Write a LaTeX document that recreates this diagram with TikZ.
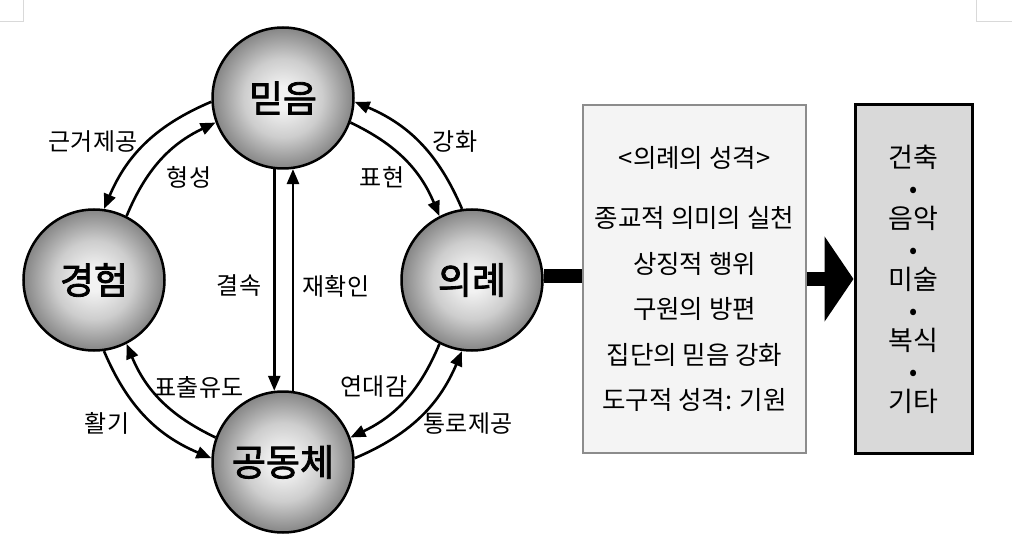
\documentclass[tikz,border=0pt]{standalone}
\usepackage{fontspec}
\setmainfont{Noto Sans CJK KR}
\newfontfamily\ballfont{Noto Sans CJK KR}[FakeBold=2.2]
\usetikzlibrary{arrows.meta}
\definecolor{ballA}{HTML}{F2F2F2}
\definecolor{ballB}{HTML}{CDCDCD}
\definecolor{ballC}{HTML}{858585}
\definecolor{boxA}{HTML}{F4F4F4}
\definecolor{boxB}{HTML}{D9D9D9}
\pgfdeclareradialshading{ballgray}{\pgfpoint{0bp}{0bp}}{color(0bp)=(ballA); color(4bp)=(ballA); color(14bp)=(ballB); color(25bp)=(ballC); color(50bp)=(ballC)}
\newcommand{\sepdot}{{\fontsize{24}{24}\selectfont •}}
\begin{document}
\begin{tikzpicture}[x=1pt,y=-1pt,
  ball/.style={circle, draw, line width=2.5pt, minimum size=141pt, inner sep=0pt,
    shade, shading=ballgray, font=\ballfont\fontsize{37}{37}\selectfont},
  arc/.style={line width=2.6pt, -{Triangle[length=15pt,width=12pt]}},
  lbl/.style={inner sep=0pt, font=\fontsize{24}{24}\selectfont},
  boxone/.style={rectangle, draw=black!45, line width=1.2pt, fill=boxA,
    minimum width=223pt, minimum height=348pt, align=center, inner sep=0pt,
    font=\fontsize{25.5}{45.5}\selectfont},
  boxtwo/.style={rectangle, draw=black, line width=3pt, fill=boxB,
    minimum width=117pt, minimum height=349pt, align=center, inner sep=0pt,
    font=\fontsize{27}{30.5}\selectfont}]
\useasboundingbox (0,0) rectangle (1023,556);
% page corner marks
\draw[black!15, line width=0.8pt] (0,21) -- (23,21) -- (23,0);
\draw[black!15, line width=0.8pt] (976,0) -- (976,21) -- (1012,21);

\node[ball] (mideum) at (283,98) {믿음};
\node[ball] (gyeong) at (94,280) {경험};
\node[ball] (uirye) at (472,280) {의례};
\node[ball] (gong) at (283,462) {공동체};

\node[boxone] (box1) at (694.5,279) {<의례의 성격>\\[14.5pt]종교적 의미의 실천\\상징적 행위\\구원의 방편\\집단의 믿음 강화\\도구적 성격: 기원};
\node[boxtwo] (box2) at (913.5,279) {건축\\\sepdot\\음악\\\sepdot\\미술\\\sepdot\\복식\\\sepdot\\기타};

% curved arrows
\draw[arc] (mideum.183) to[bend right=22] (gyeong.82);
\draw[arc] (gyeong.63) to[bend left=21] (mideum.200);
\draw[arc] (uirye.98) to[bend right=22] (mideum.357);
\draw[arc] (mideum.340) to[bend left=21] (uirye.117);
\draw[arc] (gyeong.278) to[bend right=22] (gong.177);
\draw[arc] (gong.160) to[bend left=21] (gyeong.297);
\draw[arc] (gong.3) to[bend right=22] (uirye.262);
\draw[arc] (uirye.243) to[bend left=21] (gong.20);
% vertical arrows
\draw[arc] (mideum.263) -- (gong.97);
\draw[arc] (gong.82) -- (mideum.278);

% labels
\node[lbl] (l1) at (93,142) {근거제공};
\node[lbl] (l2) at (189,177) {형성};
\node[lbl] (l3) at (455,142) {강화};
\node[lbl] (l4) at (382,177) {표현};
\node[lbl] (l5) at (239,286) {결속};
\node[lbl] (l6) at (336,286) {재확인};
\node[lbl] (l7) at (199,387) {표출유도};
\node[lbl] (l8) at (107,423) {활기};
\node[lbl] (l9) at (374,387) {연대감};
\node[lbl] (l10) at (468,424) {통로제공};

% bar and big arrow
\draw[line width=13pt] ([yshift=4pt]uirye.east) -- ([yshift=4pt]uirye.east -| box1.west);
\draw[line width=14pt, -{Triangle[length=29pt,width=84pt]}] (box1.east) -- (box2.west);
\end{tikzpicture}
\end{document}
